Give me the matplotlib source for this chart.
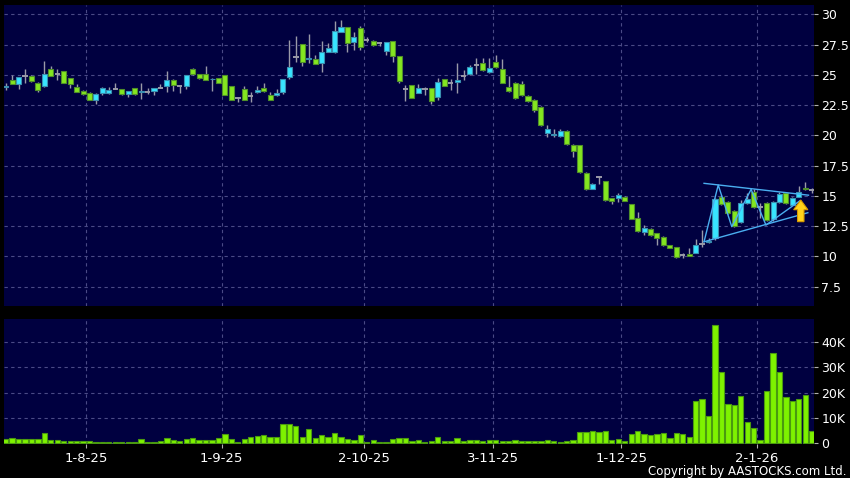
import numpy as np
import matplotlib
matplotlib.use("Agg")
import matplotlib.pyplot as plt
from matplotlib.patches import FancyArrow

# Datos (un índice por sesión)
opens = [24.00, 24.55, 24.20, 24.90, 24.90, 24.35, 24.05, 25.45, 25.05, 25.30,
         24.70, 24.00, 23.70, 23.50, 22.95, 23.50, 23.50, 23.85, 23.80, 23.40,
         23.90, 23.62, 23.60, 23.70, 23.95, 24.05, 24.60, 24.05, 24.05, 25.50,
         25.05, 25.10, 24.62, 24.70, 24.95, 24.05, 23.05, 23.80, 23.25, 23.55,
         23.90, 23.30, 23.30, 23.62, 24.85, 26.50, 27.52, 26.28, 26.33, 26.00,
         26.88, 26.86, 28.56, 28.92, 27.68, 28.84, 27.85, 27.82, 27.60, 26.99,
         27.77, 26.55, 23.80, 24.13, 23.52, 23.80, 23.90, 23.14, 24.68, 24.30,
         24.38, 24.90, 25.04, 25.78, 26.00, 25.20, 26.03, 25.45, 23.96, 24.35,
         24.20, 23.27, 22.95, 22.37, 20.22, 20.05, 19.94, 20.33, 19.23, 19.17,
         16.90, 15.60, 16.55, 16.20, 14.79, 14.79, 14.87, 14.30, 13.14, 12.00,
         12.23, 11.90, 11.62, 10.91, 10.74, 10.10, 10.17, 10.30, 11.00, 11.15,
         11.48, 14.86, 14.46, 13.72, 12.80, 14.38, 15.28, 14.05, 14.38, 13.05,
         14.46, 15.20, 14.24, 14.93, 15.67, 15.48]
highs = [24.30, 24.95, 24.80, 25.45, 24.95, 24.40, 26.15, 25.70, 25.45, 25.35,
         24.75, 24.20, 23.75, 23.55, 23.50, 24.00, 24.00, 24.30, 23.85, 23.70,
         23.95, 24.30, 23.95, 23.95, 24.20, 25.30, 24.65, 24.10, 25.00, 25.55,
         25.10, 25.70, 24.70, 24.75, 25.00, 24.10, 23.20, 24.10, 23.60, 24.10,
         24.30, 23.60, 23.85, 24.65, 27.88, 28.20, 27.55, 28.40, 26.66, 27.82,
         27.60, 29.45, 29.53, 28.95, 28.50, 29.06, 28.15, 27.85, 27.70, 27.72,
         27.80, 26.58, 24.16, 24.15, 24.24, 24.02, 23.90, 24.70, 24.68, 24.63,
         25.95, 25.40, 25.80, 26.36, 26.36, 26.36, 26.60, 26.30, 24.90, 24.40,
         24.50, 23.35, 23.00, 22.40, 20.83, 20.55, 20.50, 20.40, 19.30, 19.20,
         16.95, 16.05, 16.64, 16.25, 14.85, 15.26, 14.95, 14.35, 13.70, 12.60,
         12.30, 11.95, 11.70, 10.95, 10.78, 10.30, 10.66, 11.46, 12.20, 11.50,
         14.85, 15.06, 14.60, 13.80, 14.65, 15.20, 15.55, 14.40, 14.45, 14.55,
         15.30, 15.30, 14.90, 15.80, 16.10, 15.65]
lows = [23.75, 24.20, 23.80, 24.35, 24.40, 23.60, 24.00, 24.90, 24.60, 24.35,
        23.90, 23.60, 23.35, 22.90, 22.60, 23.35, 23.45, 23.80, 23.35, 23.20,
        23.35, 23.00, 23.40, 23.30, 23.90, 23.60, 23.70, 23.50, 23.80, 25.00,
        24.65, 24.55, 23.70, 24.30, 23.30, 22.90, 22.75, 22.90, 22.75, 23.50,
        23.60, 22.90, 23.25, 23.40, 24.63, 26.08, 25.73, 25.95, 25.87, 25.26,
        26.85, 26.80, 28.50, 26.86, 27.05, 27.05, 27.75, 27.40, 27.35, 26.66,
        26.09, 24.35, 22.85, 23.11, 23.50, 23.33, 22.59, 22.92, 24.05, 23.74,
        23.50, 24.57, 24.95, 25.10, 25.30, 25.12, 25.60, 24.30, 23.60, 22.97,
        23.25, 22.75, 21.95, 20.80, 19.83, 19.90, 19.90, 19.20, 18.18, 16.90,
        15.50, 15.55, 15.98, 14.60, 14.30, 14.49, 14.55, 13.05, 12.00, 11.76,
        11.70, 10.90, 10.85, 10.65, 9.88, 9.85, 10.00, 10.25, 10.75, 11.10,
        11.35, 14.25, 13.50, 12.45, 12.75, 14.30, 14.00, 13.15, 12.90, 12.95,
        14.40, 14.30, 14.20, 14.90, 15.45, 15.25]
closes = [24.10, 24.20, 24.80, 24.90, 24.50, 23.75, 25.05, 24.90, 25.05, 24.35,
          24.20, 23.60, 23.40, 22.95, 23.45, 23.95, 23.75, 23.85, 23.40, 23.65,
          23.40, 23.65, 23.60, 23.90, 23.95, 24.60, 24.15, 24.05, 24.95, 25.05,
          24.70, 24.60, 24.68, 24.35, 23.35, 22.95, 23.05, 22.95, 23.25, 23.75,
          23.65, 22.95, 23.50, 24.63, 25.62, 26.50, 26.08, 26.35, 25.87, 26.86,
          27.24, 28.62, 28.92, 27.66, 28.10, 27.33, 27.85, 27.44, 27.60, 27.68,
          26.55, 24.49, 23.80, 23.11, 23.88, 23.80, 22.80, 24.38, 24.07, 24.30,
          24.54, 24.90, 25.67, 25.78, 25.40, 25.60, 25.62, 24.35, 23.70, 23.05,
          23.30, 22.80, 22.09, 20.83, 20.50, 20.12, 20.33, 19.25, 18.68, 17.00,
          15.60, 15.97, 16.55, 14.62, 14.54, 15.07, 14.60, 13.11, 12.06, 12.31,
          11.73, 11.50, 10.90, 10.70, 9.92, 10.10, 10.03, 10.91, 11.00, 11.30,
          14.71, 14.30, 13.55, 12.50, 14.38, 14.71, 14.05, 14.05, 12.98, 14.46,
          15.15, 14.38, 14.85, 15.29, 15.53, 15.48]
volume_k = [1.7, 2.0, 1.6, 1.8, 1.6, 1.6, 4.2, 1.4, 1.2, 1.05,
            0.8, 0.8, 0.9, 0.8, 0.6, 0.6, 0.6, 0.6, 0.6, 0.6,
            0.6, 1.7, 0.6, 0.6, 1.0, 2.0, 1.2, 0.8, 1.7, 2.1,
            1.2, 1.3, 1.3, 2.0, 3.7, 1.7, 0.6, 1.7, 2.5, 2.8,
            3.3, 2.4, 2.4, 7.5, 7.8, 7.0, 2.4, 5.5, 2.0, 3.2,
            2.4, 4.2, 2.4, 1.6, 1.4, 3.3, 0.5, 1.4, 0.4, 0.4,
            1.7, 2.0, 2.1, 0.8, 1.2, 0.5, 0.8, 2.4, 0.7, 0.7,
            2.2, 0.8, 1.2, 1.2, 1.0, 1.4, 1.2, 0.9, 0.9, 1.2,
            1.0, 0.9, 0.8, 1.0, 1.2, 0.7, 0.5, 0.7, 1.3, 4.5,
            4.5, 4.7, 4.3, 4.9, 1.3, 1.6, 1.0, 3.6, 4.9, 3.7,
            3.3, 3.6, 4.0, 2.0, 4.1, 3.8, 2.4, 16.9, 17.4, 10.9,
            46.9, 28.2, 15.4, 15.0, 18.6, 8.6, 5.9, 1.2, 20.7, 35.8,
            28.2, 18.3, 16.7, 17.4, 19.0, 5.0]

date_pos = [12.5, 33.5, 55.5, 75.5, 95.5, 116.5]
date_labels = ["1-8-25", "1-9-25", "2-10-25", "3-11-25", "1-12-25", "2-1-26"]
price_ticks = [7.5, 10, 12.5, 15, 17.5, 20, 22.5, 25, 27.5, 30]
vol_ticks = [0, 10, 20, 30, 40]
vol_labels = ["0", "10K", "20K", "30K", "40K"]

# Triángulo dibujado sobre el precio (índice, precio)
tri_upper = [(108.3, 16.03), (124.5, 15.05)]
tri_lower = [(108.3, 11.2), (124.4, 13.6)]
tri_zigzag = [(108.3, 11.2), (110.5, 15.89), (112.6, 12.45),
              (115.6, 15.53), (117.9, 12.58), (123.2, 14.6)]
arrow_base = (123.3, 12.86)
arrow_tip_price = 14.65

NAVY = "#000040"
GRID = "#4a4a86"
UP_FACE, UP_EDGE = "#38e4ff", "#3a8fb0"
DN_FACE, DN_EDGE = "#84e620", "#4f8f2a"
WICK = "#9a9aa8"

o = np.array(opens)
h = np.array(highs)
l = np.array(lows)
c = np.array(closes)
x = np.arange(len(o))

fig = plt.figure(figsize=(8.5, 4.78), dpi=100, facecolor="black")
ax = fig.add_axes([4 / 850, 1 - 306 / 478, 810.3 / 850, 301 / 478])
axv = fig.add_axes([4 / 850, 34 / 478, 810.3 / 850, 125 / 478])

for a in (ax, axv):
    a.set_facecolor(NAVY)
    for s in a.spines.values():
        s.set_visible(False)
    a.set_xlim(-0.26, 125.4)
    a.yaxis.tick_right()
    a.tick_params(axis="y", colors="#b0b0b0", labelcolor="white",
                  length=3, labelsize=9, pad=2)
    a.tick_params(axis="x", colors="#b0b0b0", labelcolor="white",
                  length=3, labelsize=9.5, pad=3)
    a.set_xticks(date_pos)
    a.grid(True, color=GRID, linestyle=(0, (3, 3)), linewidth=0.8)
    a.set_axisbelow(True)

# Velas
doji = np.abs(c - o) < 0.02
up = (c > o) & ~doji
dn = (c < o) & ~doji
ax.vlines(x, l, h, color=WICK, linewidth=1, zorder=2)
ax.bar(x[up], (c - o)[up], bottom=o[up], width=0.78,
       color=UP_FACE, edgecolor=UP_EDGE, linewidth=0.8, zorder=3)
ax.bar(x[dn], (o - c)[dn], bottom=c[dn], width=0.78,
       color=DN_FACE, edgecolor=DN_EDGE, linewidth=0.8, zorder=3)
ax.hlines(o[doji], x[doji] - 0.42, x[doji] + 0.42, color=WICK,
          linewidth=1.4, zorder=3)

# Triángulo y flecha
for pts in (tri_upper, tri_lower, tri_zigzag):
    px, py = zip(*pts)
    ax.plot(px, py, color="#4aaef0", linewidth=1, zorder=4)
ax.add_patch(FancyArrow(arrow_base[0], arrow_base[1], 0,
                        arrow_tip_price - arrow_base[1], width=1.0,
                        head_width=2.2, head_length=0.8,
                        length_includes_head=True, facecolor="#ffd21a",
                        edgecolor="#d89a00", linewidth=0.8, zorder=5))

ax.set_ylim(5.89, 30.77)
ax.set_yticks(price_ticks)
ax.set_yticklabels(["{:g}".format(t) for t in price_ticks])
ax.set_xticklabels([])
ax.tick_params(axis="x", length=0)

# Volumen
axv.bar(x, volume_k, width=0.82, color="#7ef200", edgecolor="#4a9a10",
        linewidth=0.8, zorder=3)
axv.set_ylim(-0.3, 49.2)
axv.set_yticks(vol_ticks)
axv.set_yticklabels(vol_labels)
axv.set_xticklabels(date_labels)

fig.text(846 / 850, 1 - 471 / 478, "Copyright by AASTOCKS.com Ltd.",
         color="white", fontsize=8.5, ha="right", va="center")

plt.savefig("out.png", dpi=100, facecolor="black")
